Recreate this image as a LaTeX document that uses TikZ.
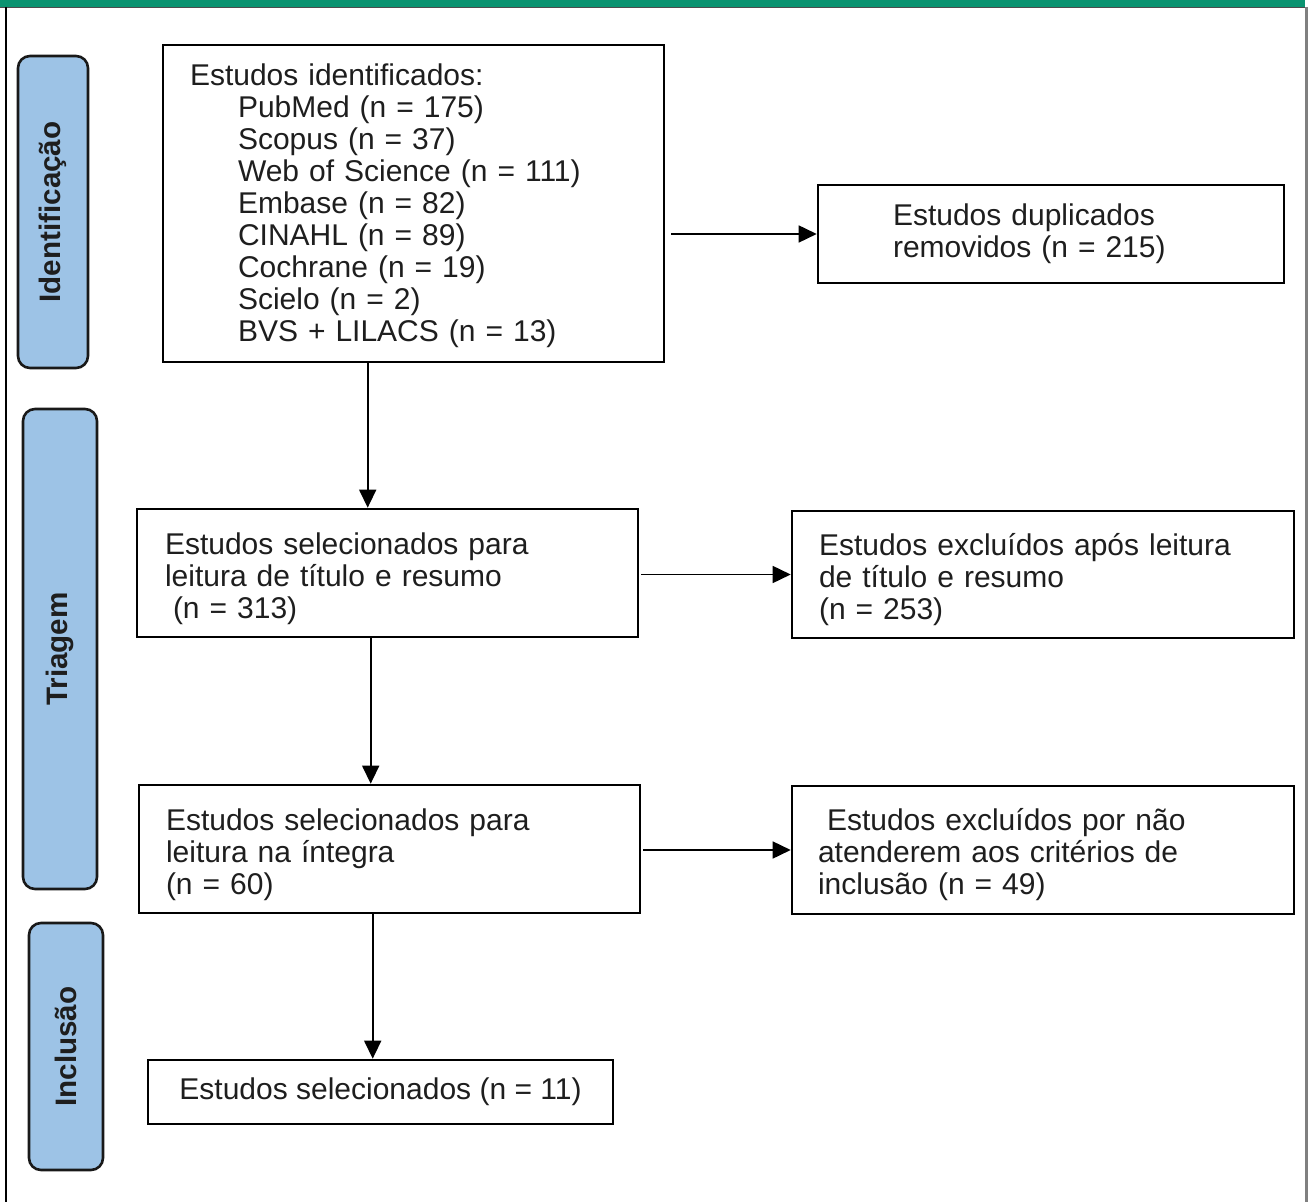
\documentclass[tikz,border=0pt]{standalone}
\usepackage{fontspec}
\setmainfont{Liberation Sans}
\usetikzlibrary{arrows.meta}
\definecolor{topgreen}{HTML}{0A9370}
\definecolor{sideblue}{HTML}{9DC3E6}
\definecolor{txt}{HTML}{1E1E1E}
\newcommand\topfill[1]{\rule{0pt}{#1}}
\tikzset{
  box/.style={draw=black, line width=1.3pt, rectangle, inner ysep=0pt, text=txt,
    font=\fontsize{15}{16}\selectfont, align=left},
  phase/.style={draw=black!90, line width=1.3pt, fill=sideblue, rounded corners=6pt,
    inner sep=0pt, text=txt, font=\bfseries\fontsize{14.8}{16}\selectfont},
  arr/.style={line width=0.8pt, draw=black, -{Triangle[length=9pt,width=8.5pt]}}
}
\begin{document}
\begin{tikzpicture}[x=0.5pt,y=-0.5pt]
\useasboundingbox (0,0) rectangle (1310,1202);
% frame
\fill[topgreen] (0,0) rectangle (1305,7);
\draw[black!70, line width=0.5pt] (0,7.5) -- (1305,7.5);
\draw[black, line width=0.8pt] (6,7) -- (6,1202);
\draw[gray, line width=1.5pt] (1306,7) -- (1306,1202);
% phase labels
\node[phase, minimum width=35pt, minimum height=156pt] (pid) at (53,212) {\rotatebox{90}{Identificação}};
\node[phase, minimum width=37pt, minimum height=240pt] (ptr) at (60,649) {\rotatebox{90}{Triagem}};
\node[phase, minimum width=37pt, minimum height=123.5pt] (pin) at (66,1046.5) {\rotatebox{90}{Inclusão}};
% boxes
\node[box, inner xsep=13.5pt, text width=223.5pt, minimum height=158.5pt] (b1) at (413.5,203.5)
 {\topfill{13.5pt}Estudos identificados:\\
  \hspace*{24pt}PubMed (n = 175)\\
  \hspace*{24pt}Scopus (n = 37)\\
  \hspace*{24pt}Web of Science (n = 111)\\
  \hspace*{24pt}Embase (n = 82)\\
  \hspace*{24pt}CINAHL (n = 89)\\
  \hspace*{24pt}Cochrane (n = 19)\\
  \hspace*{24pt}Scielo (n = 2)\\
  \hspace*{24pt}BVS + LILACS (n = 13)};
\node[box, inner xsep=37.5pt, text width=158pt, minimum height=49pt] (dup) at (1051,234)
 {Estudos duplicados\\removidos (n = 215)};
\node[box, inner xsep=14pt, text width=222.5pt, minimum height=64pt] (b2) at (387.5,573)
 {\topfill{17pt}Estudos selecionados para\\leitura de título e resumo\\\hspace*{4pt}(n = 313)};
\node[box, inner xsep=13.5pt, text width=224pt, minimum height=63.5pt] (ex1) at (1043,574.5)
 {\topfill{16pt}Estudos excluídos após leitura\\de título e resumo\\(n = 253)};
\node[box, inner xsep=13.5pt, text width=223.5pt, minimum height=64pt] (b3) at (389.5,849)
 {\topfill{17pt}Estudos selecionados para\\leitura na íntegra\\(n = 60)};
\node[box, inner xsep=13pt, text width=225pt, minimum height=64pt] (ex2) at (1043,850)
 {\topfill{16pt}\hspace*{4.5pt}Estudos excluídos por não\\atenderem aos critérios de\\inclusão (n = 49)};
\node[box, inner xsep=0pt, minimum width=232.5pt, minimum height=32pt] (b4) at (380.5,1092)
 {Estudos selecionados (n = 11)};
% connectors
\draw[arr] ([xshift=103pt]b1.south west) -- ([xshift=103pt]b1.south west |- b2.north);
\draw[arr] ([xshift=3pt]b1.east |- dup.west) -- (dup.west);
\draw[arr] ([xshift=1pt]b2.east |- ex1.west) -- (ex1.west);
\draw[arr] ([xshift=117.5pt]b2.south west) -- ([xshift=117.5pt]b2.south west |- b3.north);
\draw[arr] ([xshift=1pt]b3.east |- ex2.west) -- (ex2.west);
\draw[arr] ([xshift=117.5pt]b3.south west) -- ([xshift=117.5pt]b3.south west |- b4.north);
\end{tikzpicture}
\end{document}
